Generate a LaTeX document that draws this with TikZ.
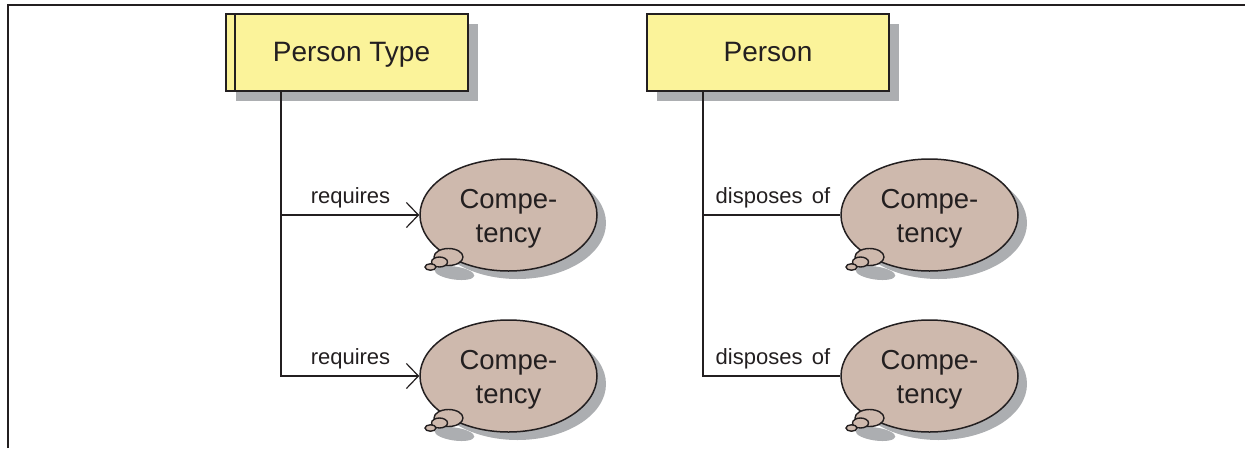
\documentclass[tikz,border=0pt]{standalone}
\usepackage{fontspec}
\setmainfont{Liberation Sans}
\usetikzlibrary{positioning,shapes.geometric,arrows.meta,calc}
\definecolor{typeyellow}{RGB}{251,243,154}
\definecolor{compbrown}{RGB}{206,185,173}
\definecolor{shadowgray}{RGB}{172,174,177}
\definecolor{linedark}{RGB}{35,31,32}

\begin{document}
\begin{tikzpicture}[
    x=1pt, y=-1pt,
    classbox/.style={rectangle, draw=linedark, fill=typeyellow, line width=1.5pt, inner sep=0pt, minimum width=242pt, minimum height=77pt, text=linedark, text height=20pt, text depth=2pt, font=\fontsize{28}{30}\selectfont},
    boxshadow/.style={rectangle, fill=shadowgray, inner sep=0pt, minimum width=242pt, minimum height=77pt},
    bubble/.style={ellipse, draw=linedark, fill=compbrown, line width=1.5pt, inner sep=0pt, minimum width=177pt, minimum height=112pt, align=center, text=linedark, font=\fontsize{27.5}{34}\selectfont},
    bubbleshadow/.style={ellipse, fill=shadowgray, inner sep=0pt, minimum width=177pt, minimum height=112pt},
    puff/.style={ellipse, draw=linedark, fill=compbrown, line width=1.4pt, inner sep=0pt},
    assoc/.style={draw=linedark, line width=1.5pt},
    relabel/.style={font=\fontsize{22}{24}\selectfont, inner sep=0pt, text=linedark, anchor=base}
]
\useasboundingbox (0,0) rectangle (1245,448);
\draw[draw=linedark, line width=2.2pt] (8,448) -- (8,5) -- (1245,5);

% shadows of the two classes
\node[boxshadow] (ptypeshadow) at (357,62.5) {};
\node[boxshadow] (personshadow) at (778,62.5) {};

% the classes
\node[classbox] (ptype) at (347,52.5) {\hspace{9pt}Person Type};
\node[classbox] (person) at (768,52.5) {Person};
\draw[draw=linedark, line width=1.5pt] ($(ptype.north west)+(9.5,0)$) -- ($(ptype.south west)+(9.5,0)$);

% the competencies
\foreach \name/\cx/\cy in {req1/508.5/215, req2/508.5/376, disp1/929.5/215, disp2/929.5/376} {
  \node[bubbleshadow] (\name shadow) at (\cx+9,\cy+8) {};
  \node[ellipse, fill=shadowgray, inner sep=0pt, minimum width=40pt, minimum height=13pt, rotate=-8] (\name puffshadow) at (\cx-54,\cy+58) {};
  \node[bubble] (\name) at (\cx,\cy) {\rule{0pt}{27pt}Compe-\\tency};
  \node[puff, minimum width=29pt, minimum height=17pt] (\name big) at (\cx-60,\cy+42) {};
  \node[puff, minimum width=16pt, minimum height=10pt] (\name mid) at (\cx-69,\cy+47) {};
  \node[puff, minimum width=11pt, minimum height=6.5pt] (\name small) at (\cx-78,\cy+52) {};
}

\coordinate (ptypetrunk) at (281,91);
\coordinate (persontrunk) at (703,91);

\draw[assoc, -{Straight Barb[length=12pt,width=25pt,line width=1.2pt]}] (ptypetrunk) |- (req1.west);
\draw[assoc, -{Straight Barb[length=12pt,width=25pt,line width=1.2pt]}] (ptypetrunk) |- (req2.west);
\draw[assoc] (persontrunk) |- (disp1.west);
\draw[assoc] (persontrunk) |- (disp2.west);

\node[relabel] (reqlabel1) at (350.5,203) {requires};
\node[relabel] (reqlabel2) at (350.5,364) {requires};
\node[relabel] (displabel1) at (773,203) {disposes\hspace{0.15em} of};
\node[relabel] (displabel2) at (773,364) {disposes\hspace{0.15em} of};

\end{tikzpicture}
\end{document}
